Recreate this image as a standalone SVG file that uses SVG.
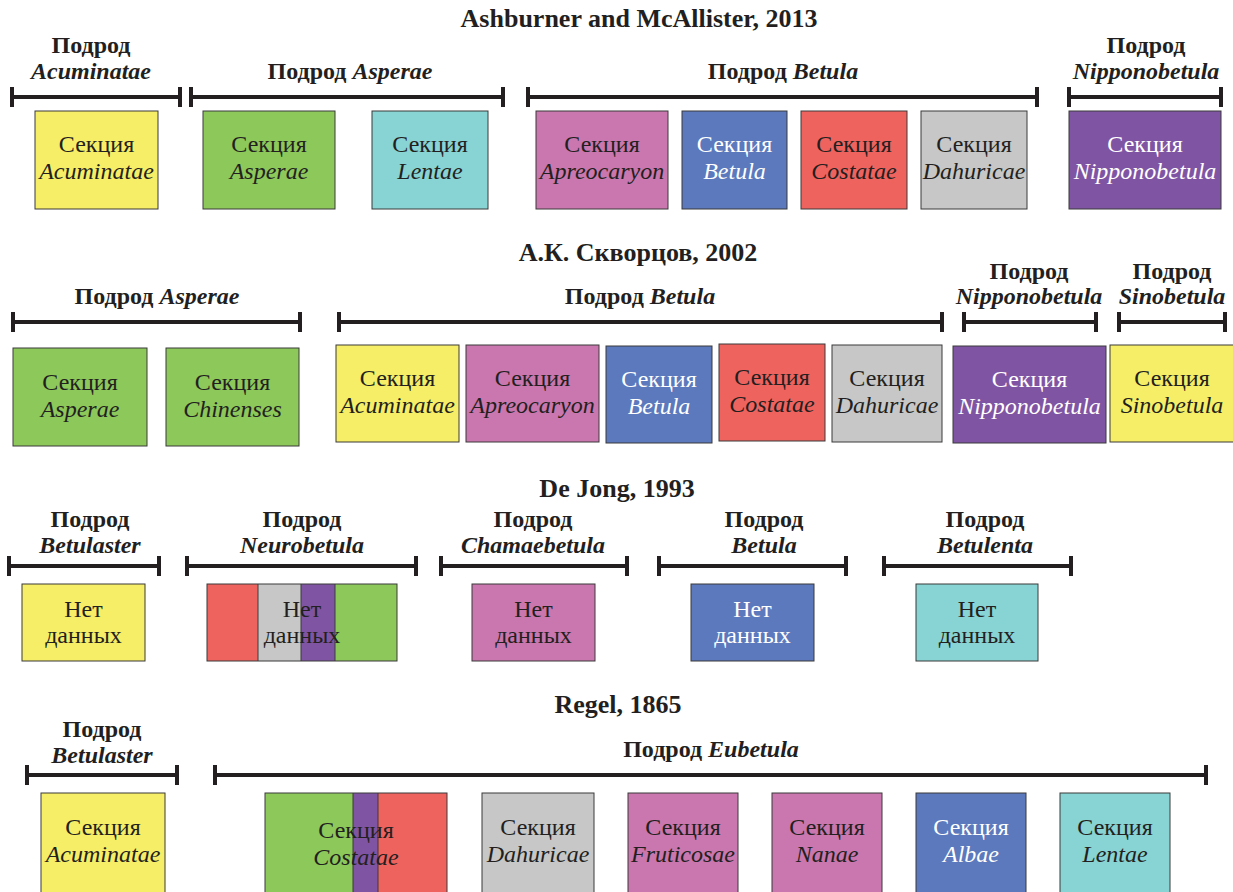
<svg xmlns="http://www.w3.org/2000/svg" width="1233" height="892" viewBox="0 0 1233 892">
<style>
text{font-family:"Liberation Serif","Times New Roman",serif;fill:#231f20;text-anchor:middle}
.t{font-size:26px;font-weight:bold}
.l{font-size:24px;font-weight:bold}
.s{font-size:24px}
.i{font-style:italic}
.w{fill:#ffffff}
.box{stroke:#3a3a3a;stroke-width:1}
.y{fill:#f6ee66}.g{fill:#8dc85b}.c{fill:#88d3d3}.p{fill:#c977ae}.bl{fill:#5b79bc}.r{fill:#ef635f}.gr{fill:#c6c7c6}.pu{fill:#7f55a3}
.br{stroke:#231f20;stroke-width:4;fill:none}
</style>

<!-- Titles -->
<g id="titles">
<text class="t" x="639" y="27">Ashburner and McAllister, 2013</text>
<text class="t" x="638" y="261">А.К. Скворцов, 2002</text>
<text class="t" x="617" y="497">De Jong, 1993</text>
<text class="t" x="618" y="713">Regel, 1865</text>
</g>

<!-- Brackets -->
<g id="connectors" class="br">
<path d="M12 97H180M12 87V107M180 87V107"/>
<path d="M191 97H503M191 87V107M503 87V107"/>
<path d="M528 97H1037M528 87V107M1037 87V107"/>
<path d="M1069 97H1221M1069 87V107M1221 87V107"/>

<path d="M13 322H300M13 312V332M300 312V332"/>
<path d="M339 322H942M339 312V332M942 312V332"/>
<path d="M964 322H1096M964 312V332M1096 312V332"/>
<path d="M1119 322H1225M1119 312V332M1225 312V332"/>

<path d="M9 566H159M9 556V576M159 556V576"/>
<path d="M187 566H416M187 556V576M416 556V576"/>
<path d="M441 566H627M441 556V576M627 556V576"/>
<path d="M659 566H846M659 556V576M846 556V576"/>
<path d="M884 566H1071M884 556V576M1071 556V576"/>

<path d="M27 775H177M27 765V785M177 765V785"/>
<path d="M215 775H1206M215 765V785M1206 765V785"/>
</g>

<!-- Row 1 labels -->
<g id="r1-labels">
<text class="l" x="91" y="53">Подрод</text>
<text class="l i" x="91" y="79">Acuminatae</text>
<text class="l" x="350" y="79">Подрод <tspan class="i">Asperae</tspan></text>
<text class="l" x="783" y="79">Подрод <tspan class="i">Betula</tspan></text>
<text class="l" x="1146" y="53">Подрод</text>
<text class="l i" x="1146" y="79">Nipponobetula</text>
</g>

<!-- Row 1 boxes -->
<g id="r1-acuminatae"><rect class="box y" x="35" y="111" width="123" height="98"/><text class="s" x="96.5" y="152">Секция</text><text class="s i" x="96.5" y="179">Acuminatae</text></g>
<g id="r1-asperae"><rect class="box g" x="203" y="111" width="132" height="98"/><text class="s" x="269" y="152">Секция</text><text class="s i" x="269" y="179">Asperae</text></g>
<g id="r1-lentae"><rect class="box c" x="372" y="111" width="116" height="98"/><text class="s" x="430" y="152">Секция</text><text class="s i" x="430" y="179">Lentae</text></g>
<g id="r1-apreocaryon"><rect class="box p" x="536" y="111" width="132" height="98"/><text class="s" x="602" y="152">Секция</text><text class="s i" x="602" y="179">Apreocaryon</text></g>
<g id="r1-betula"><rect class="box bl" x="682" y="111" width="105" height="98"/><text class="s w" x="734.5" y="152">Секция</text><text class="s i w" x="734.5" y="179">Betula</text></g>
<g id="r1-costatae"><rect class="box r" x="801" y="111" width="106" height="98"/><text class="s" x="854" y="152">Секция</text><text class="s i" x="854" y="179">Costatae</text></g>
<g id="r1-dahuricae"><rect class="box gr" x="921" y="111" width="106" height="98"/><text class="s" x="974" y="152">Секция</text><text class="s i" x="974" y="179">Dahuricae</text></g>
<g id="r1-nipponobetula"><rect class="box pu" x="1069" y="111" width="152" height="98"/><text class="s w" x="1145" y="152">Секция</text><text class="s i w" x="1145" y="179">Nipponobetula</text></g>

<!-- Row 2 labels -->
<g id="r2-labels">
<text class="l" x="157" y="304">Подрод <tspan class="i">Asperae</tspan></text>
<text class="l" x="640" y="304">Подрод <tspan class="i">Betula</tspan></text>
<text class="l" x="1029" y="279">Подрод</text>
<text class="l i" x="1029" y="304">Nipponobetula</text>
<text class="l" x="1172" y="279">Подрод</text>
<text class="l i" x="1172" y="304">Sinobetula</text>
</g>

<!-- Row 2 boxes -->
<g id="r2-asperae"><rect class="box g" x="13" y="348" width="134" height="98"/><text class="s" x="80" y="390">Секция</text><text class="s i" x="80" y="417">Asperae</text></g>
<g id="r2-chinenses"><rect class="box g" x="166" y="348" width="133" height="98"/><text class="s" x="232.5" y="390">Секция</text><text class="s i" x="232.5" y="417">Chinenses</text></g>
<g id="r2-acuminatae"><rect class="box y" x="336" y="345" width="123" height="97"/><text class="s" x="397.5" y="386">Секция</text><text class="s i" x="397.5" y="413">Acuminatae</text></g>
<g id="r2-apreocaryon"><rect class="box p" x="466" y="345" width="133" height="97"/><text class="s" x="532.5" y="386">Секция</text><text class="s i" x="532.5" y="413">Apreocaryon</text></g>
<g id="r2-betula"><rect class="box bl" x="606" y="346" width="106" height="97"/><text class="s w" x="659" y="387">Секция</text><text class="s i w" x="659" y="414">Betula</text></g>
<g id="r2-costatae"><rect class="box r" x="719" y="344" width="106" height="97"/><text class="s" x="772" y="385">Секция</text><text class="s i" x="772" y="412">Costatae</text></g>
<g id="r2-dahuricae"><rect class="box gr" x="832" y="345" width="110" height="97"/><text class="s" x="887" y="386">Секция</text><text class="s i" x="887" y="413">Dahuricae</text></g>
<g id="r2-nipponobetula"><rect class="box pu" x="953" y="346" width="153" height="97"/><text class="s w" x="1029.5" y="387">Секция</text><text class="s i w" x="1029.5" y="414">Nipponobetula</text></g>
<g id="r2-sinobetula"><rect class="box y" x="1110" y="345" width="124" height="97"/><text class="s" x="1172" y="386">Секция</text><text class="s i" x="1172" y="413">Sinobetula</text></g>

<!-- Row 3 labels -->
<g id="r3-labels">
<text class="l" x="90" y="527">Подрод</text>
<text class="l i" x="90" y="553">Betulaster</text>
<text class="l" x="302" y="527">Подрод</text>
<text class="l i" x="302" y="553">Neurobetula</text>
<text class="l" x="533" y="527">Подрод</text>
<text class="l i" x="533" y="553">Chamaebetula</text>
<text class="l" x="764" y="527">Подрод</text>
<text class="l i" x="764" y="553">Betula</text>
<text class="l" x="985" y="527">Подрод</text>
<text class="l i" x="985" y="553">Betulenta</text>
</g>

<!-- Row 3 boxes -->
<g id="r3-betulaster"><rect class="box y" x="22" y="584" width="123" height="77"/><text class="s" x="83.5" y="617">Нет</text><text class="s" x="83.5" y="643">данных</text></g>
<g id="r3-neurobetula">
<rect class="r" x="207" y="584" width="51" height="77"/>
<rect class="gr" x="258" y="584" width="43" height="77"/>
<rect class="pu" x="301" y="584" width="34" height="77"/>
<rect class="g" x="335" y="584" width="62" height="77"/>
<path d="M258 584V661M301 584V661M335 584V661" stroke="#3a3a3a" stroke-width="1"/>
<rect class="box" x="207" y="584" width="190" height="77" fill="none"/>
<text class="s" x="302" y="617">Нет</text><text class="s" x="302" y="643">данных</text></g>
<g id="r3-chamaebetula"><rect class="box p" x="472" y="584" width="123" height="77"/><text class="s" x="533.5" y="617">Нет</text><text class="s" x="533.5" y="643">данных</text></g>
<g id="r3-betula"><rect class="box bl" x="691" y="584" width="123" height="77"/><text class="s w" x="752.5" y="617">Нет</text><text class="s w" x="752.5" y="643">данных</text></g>
<g id="r3-betulenta"><rect class="box c" x="916" y="584" width="122" height="77"/><text class="s" x="977" y="617">Нет</text><text class="s" x="977" y="643">данных</text></g>

<!-- Row 4 labels -->
<g id="r4-labels">
<text class="l" x="102" y="737">Подрод</text>
<text class="l i" x="102" y="763">Betulaster</text>
<text class="l" x="711" y="757">Подрод <tspan class="i">Eubetula</tspan></text>
</g>

<!-- Row 4 boxes -->
<g id="r4-acuminatae"><rect class="box y" x="41" y="793" width="124" height="102"/><text class="s" x="103" y="835">Секция</text><text class="s i" x="103" y="862">Acuminatae</text></g>
<g id="r4-costatae">
<rect class="g" x="265" y="793" width="88" height="102"/>
<rect class="pu" x="353" y="793" width="25" height="102"/>
<rect class="r" x="378" y="793" width="69" height="102"/>
<path d="M353 793V892M378 793V892" stroke="#3a3a3a" stroke-width="1"/>
<rect class="box" x="265" y="793" width="182" height="102" fill="none"/>
<text class="s" x="356" y="838">Секция</text><text class="s i" x="356" y="865">Costatae</text></g>
<g id="r4-dahuricae"><rect class="box gr" x="482" y="793" width="112" height="102"/><text class="s" x="538" y="835">Секция</text><text class="s i" x="538" y="862">Dahuricae</text></g>
<g id="r4-fruticosae"><rect class="box p" x="628" y="793" width="110" height="102"/><text class="s" x="683" y="835">Секция</text><text class="s i" x="683" y="862">Fruticosae</text></g>
<g id="r4-nanae"><rect class="box p" x="772" y="793" width="110" height="102"/><text class="s" x="827" y="835">Секция</text><text class="s i" x="827" y="862">Nanae</text></g>
<g id="r4-albae"><rect class="box bl" x="916" y="793" width="110" height="102"/><text class="s w" x="971" y="835">Секция</text><text class="s i w" x="971" y="862">Albae</text></g>
<g id="r4-lentae"><rect class="box c" x="1060" y="793" width="110" height="102"/><text class="s" x="1115" y="835">Секция</text><text class="s i" x="1115" y="862">Lentae</text></g>
</svg>
